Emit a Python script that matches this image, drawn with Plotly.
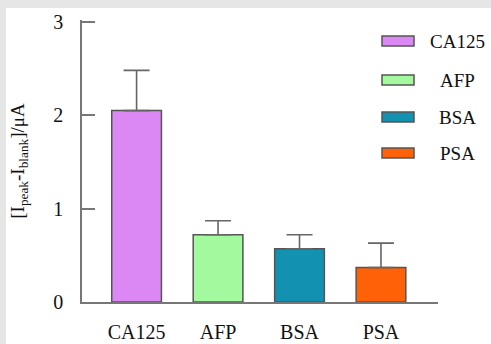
import plotly.graph_objects as go

categories = ["CA125", "AFP", "BSA", "PSA"]
values = [2.05, 0.72, 0.57, 0.37]
errors = [0.43, 0.15, 0.15, 0.26]
colors = ["#dc88f4", "#a2f99e", "#1292b0", "#ff6108"]
y_ticks = [0, 1, 2, 3]

W, H = 491, 344
L, R, T, B = 82, 53, 20, 42
pw, ph = W - L - R, H - T - B

def px(x):
    return (x - L) / pw

def py(y):
    return (H - B - y) / ph

FAM = "Liberation Serif"
TXT = "#111111"
font = dict(family=FAM, size=20, color=TXT)

fig = go.Figure()
fig.add_trace(go.Bar(
    x=categories, y=values,
    marker=dict(color=colors, line=dict(color="#555555", width=1.5)),
    width=0.61,
    error_y=dict(type="data", array=errors, symmetric=False, arrayminus=[0]*4,
                 color="#666666", thickness=1.6, width=13),
    showlegend=False,
))

shapes = [
    dict(type="rect", xref="paper", yref="paper", x0=px(0), x1=px(6), y0=py(0), y1=py(H),
         fillcolor="#e6e6e6", line=dict(width=0), layer="below"),
    dict(type="rect", xref="paper", yref="paper", x0=px(0), x1=px(W), y0=py(0), y1=py(8),
         fillcolor="#e6e6e6", line=dict(width=0), layer="below"),
]
annotations = []
leg_y = [41, 80, 117, 153]
for cat, col, yy in zip(categories, colors, leg_y):
    shapes.append(dict(type="rect", xref="paper", yref="paper",
                       x0=px(382), x1=px(414), y0=py(yy + 5), y1=py(yy - 5),
                       fillcolor=col, line=dict(color="#555555", width=1.5)))
    annotations.append(dict(xref="paper", yref="paper", x=px(457), y=py(yy),
                            text=cat, showarrow=False, xanchor="center", yanchor="middle",
                            font=dict(family=FAM, size=19, color=TXT)))

fig.update_layout(
    width=W, height=H,
    margin=dict(l=L, r=R, t=T, b=B, pad=0, autoexpand=False),
    paper_bgcolor="white", plot_bgcolor="white",
    font=font,
    shapes=shapes,
    annotations=annotations,
    xaxis=dict(range=[-0.67, 3.70], showline=True, linecolor="#777777", linewidth=1.5,
               ticks="", showgrid=False, zeroline=False, ticklabelstandoff=11,
               tickfont=font, automargin=False),
    yaxis=dict(range=[0, 3.02], tickvals=y_ticks, showline=True, linecolor="#777777",
               linewidth=1.5, ticks="inside", ticklen=13, tickcolor="#777777", tickwidth=1.5,
               showgrid=False, zeroline=False, ticklabelstandoff=13, tickfont=font,
               automargin=False,
               title=dict(text="[I<sub>peak</sub>-I<sub>blank</sub>]/μA",
                          font=dict(family=FAM, size=19, color=TXT),
                          standoff=24)),
)

fig.write_html("out.html", config={"displayModeBar": False},
               post_script="document.body.style.margin='0';document.body.style.overflow='hidden';")
